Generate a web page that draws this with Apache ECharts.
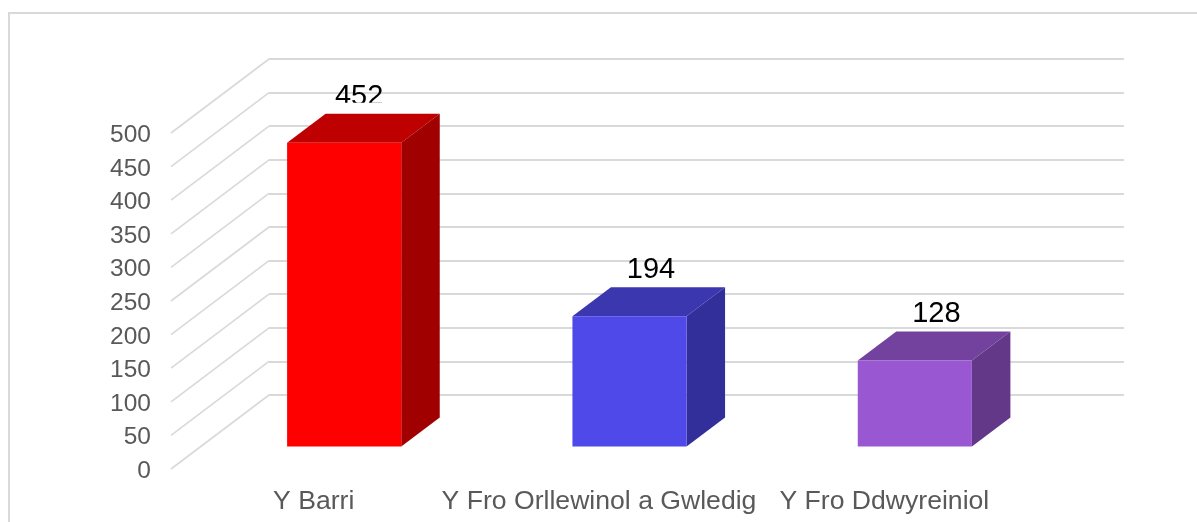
<!DOCTYPE html>
<html>
<head>
<meta charset="utf-8">
<style>
  html, body { margin: 0; padding: 0; background: #fff; }
  #chart { width: 1197px; height: 522px; }
</style>
<script src="https://cdn.jsdelivr.net/npm/echarts@6/dist/echarts.min.js"></script>
</head>
<body>
<div id="chart"></div>
<script>
const categories = ['Y Barri', 'Y Fro Orllewinol a Gwledig', 'Y Fro Ddwyreiniol'];
const values = [452, 194, 128];
const yTicks = [0, 50, 100, 150, 200, 250, 300, 350, 400, 450, 500];
const frontColors = ['#ff0000', '#4f49e9', '#9958d2'];
const topColors = ['#bf0000', '#3b37af', '#73419e'];
const sideColors = ['#a00000', '#322f9a', '#643889'];

const FONT = '"Liberation Sans", Arial, sans-serif';
const GRID_COLOR = '#d9d9d9';

// The chart is a fake 3D box: bars and category labels sit on the front plane
// (grid 0), gridlines on the back wall (grid 1), and the floor runs between them.
// Grid 2 only carries the value labels, which sit slightly below their ticks.
const WALL_DX = 98;
const WALL_DY = -74;
const BAR_DX = 30.5;
const BAR_DY = -22.5;
const BAR_DEPTH_X = 38.5;
const BAR_DEPTH_Y = -29;

function poly(points, fill) {
  return { type: 'polygon', shape: { points }, style: { fill } };
}

function renderWallLine(params, api) {
  const y = api.coord([0, api.value(1)])[1];
  const x = params.coordSys.x;
  return {
    type: 'line',
    shape: { x1: x, y1: y, x2: x + WALL_DX, y2: y + WALL_DY },
    style: { stroke: GRID_COLOR, lineWidth: 1.6 },
  };
}

function renderBar(params, api) {
  const i = params.dataIndex;
  const top = api.coord([api.value(0), api.value(1)]);
  const bottom = api.coord([api.value(0), 0]);
  const width = api.size([1, 0])[0] * 0.4;
  const l = top[0] - width / 2 + BAR_DX;
  const r = l + width;
  const t = top[1] + BAR_DY;
  const b = bottom[1] + BAR_DY;
  const dx = BAR_DEPTH_X;
  const dy = BAR_DEPTH_Y;
  // first label was nudged left and cut off at the bottom in the original
  const labelX = top[0] + BAR_DX + 21.5 + (i === 0 ? -6.5 : 0);
  const labelY = t + dy - 17;
  const label = {
    type: 'text',
    style: {
      x: labelX,
      y: labelY,
      text: String(api.value(1)),
      fill: '#000',
      font: '29px ' + FONT,
      align: 'center',
      verticalAlign: 'middle',
    },
  };
  if (i === 0) {
    label.clipPath = { type: 'rect', shape: { x: labelX - 40, y: labelY - 30, width: 80, height: 36 } };
  }
  return {
    type: 'group',
    children: [
      poly([[l, t], [r, t], [r + dx, t + dy], [l + dx, t + dy]], topColors[i]),
      poly([[r, t], [r + dx, t + dy], [r + dx, b + dy], [r, b]], sideColors[i]),
      { type: 'rect', shape: { x: l, y: t, width, height: b - t }, style: { fill: frontColors[i] } },
      label,
    ],
  };
}

const chart = echarts.init(document.getElementById('chart'));

chart.setOption({
  animation: false,
  backgroundColor: '#fff',
  graphic: [
    {
      type: 'rect',
      silent: true,
      z: -1,
      shape: { x: 9, y: 13, width: 1300, height: 600 },
      style: { fill: 'none', stroke: GRID_COLOR, lineWidth: 2 },
    },
  ],
  grid: [
    { left: 171, width: 856, top: 133, height: 336 },
    { left: 269, width: 855, top: 59, height: 336 },
    { left: 171, width: 856, top: 135.5, height: 335.5 },
  ],
  xAxis: [
    {
      type: 'category',
      gridIndex: 0,
      data: categories,
      axisLine: { show: false },
      axisTick: { show: false },
      axisLabel: { interval: 0, margin: 19, color: '#595959', fontSize: 26.6, fontFamily: FONT },
    },
    { type: 'category', gridIndex: 1, data: categories, show: false },
    { type: 'category', gridIndex: 2, data: categories, show: false },
  ],
  yAxis: [
    {
      type: 'value',
      gridIndex: 0,
      min: 0,
      max: 500,
      interval: 50,
      axisLine: { show: false },
      axisTick: { show: false },
      axisLabel: { show: false },
      splitLine: { show: false },
    },
    {
      type: 'value',
      gridIndex: 1,
      min: 0,
      max: 500,
      interval: 50,
      axisLine: { show: false },
      axisTick: { show: false },
      axisLabel: { show: false },
      splitLine: { lineStyle: { color: GRID_COLOR, width: 2 } },
    },
    {
      type: 'value',
      gridIndex: 2,
      min: 0,
      max: 500,
      interval: 50,
      axisLine: { show: false },
      axisTick: { show: false },
      splitLine: { show: false },
      axisLabel: { margin: 20, color: '#595959', fontSize: 24.5, fontFamily: FONT },
    },
  ],
  series: [
    {
      type: 'custom',
      xAxisIndex: 0,
      yAxisIndex: 0,
      silent: true,
      z: 1,
      data: yTicks.map((t) => [0, t]),
      encode: { x: 0, y: 1 },
      renderItem: renderWallLine,
    },
    {
      type: 'custom',
      xAxisIndex: 0,
      yAxisIndex: 0,
      silent: true,
      z: 3,
      data: values.map((v, i) => [i, v]),
      encode: { x: 0, y: 1 },
      renderItem: renderBar,
    },
  ],
});
</script>
</body>
</html>
